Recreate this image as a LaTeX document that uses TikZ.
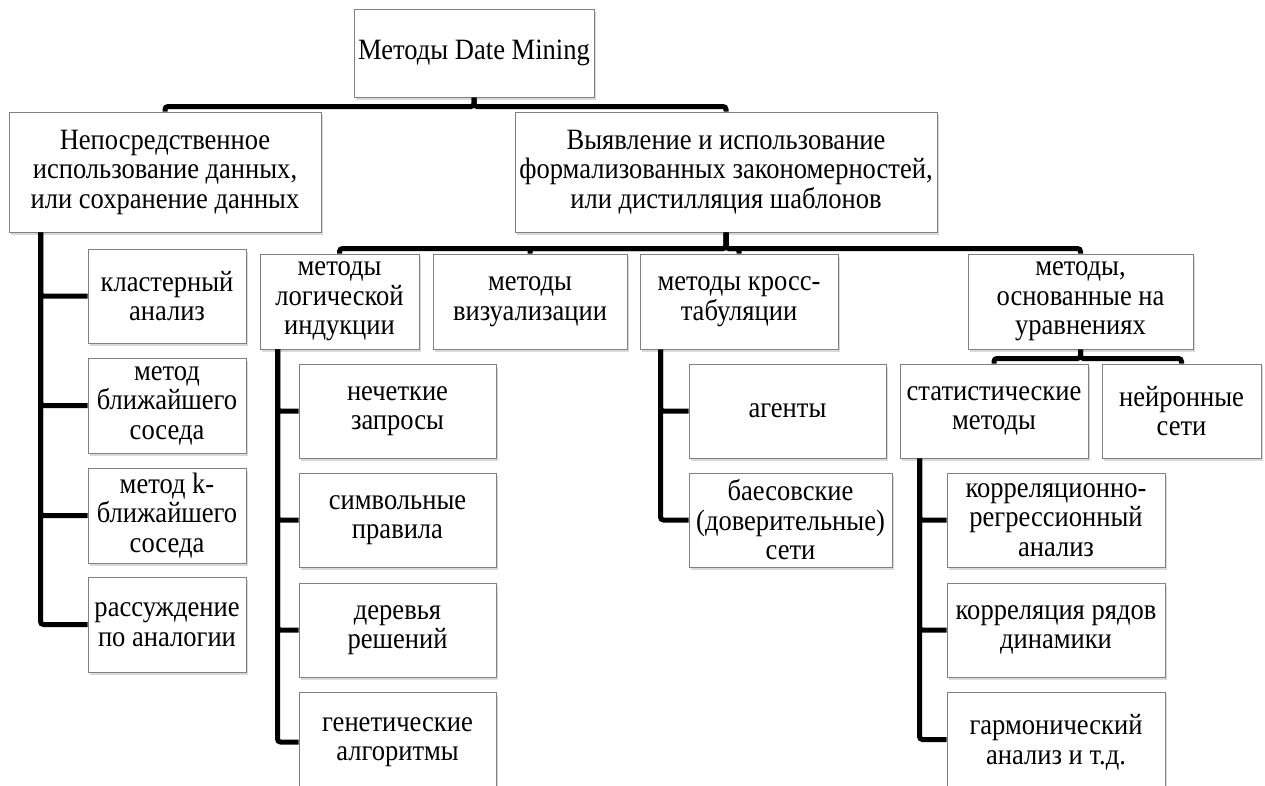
\documentclass[tikz,border=0pt]{standalone}
\usepackage{fontspec}
\setmainfont{Liberation Serif}[FakeStretch=0.9]
\usetikzlibrary{shadows}

\tikzset{
  box/.style={draw=black!50, line width=1pt, fill=white, align=center,
    inner sep=0pt, font=\fontsize{29.5}{29.5}\selectfont,
    drop shadow={shadow xshift=2pt, shadow yshift=-3pt, fill=black, opacity=0.15}},
  conn/.style={line width=5pt, draw=black, rounded corners=3pt}
}

% place a box by its corners (x1,y1)-(x2,y2), y measured downwards
\newcommand{\bx}[6]{%
  \node[box, minimum width={(#4)-(#2)}, minimum height={(#5)-(#3)}]
    (#1) at ({((#2)+(#4))/2},{((#3)+(#5))/2}) {#6};}

\begin{document}
\begin{tikzpicture}[x=1pt, y=-1pt]
\useasboundingbox (0,0) rectangle (1265,785);

% ---------- boxes ----------
\bx{root}{354}{9}{594}{97}{Методы Date Mining}
\bx{A}{9}{112}{321}{232}{Непосредственное\\использование данных,\\или сохранение данных}
\bx{B}{515}{112}{937}{232}{Выявление и использование\\формализованных закономерностей,\\или дистилляция шаблонов}

\bx{C1}{88}{249}{246}{343}{кластерный\\анализ}
\bx{C2}{88}{358}{246}{453}{метод\\ближайшего\\соседа}
\bx{C3}{88}{468}{246}{563}{метод k-\\ближайшего\\соседа}
\bx{C4}{88}{577}{246}{672}{рассуждение\\по аналогии}

\bx{D1}{260}{254}{419}{349}{методы\\логической\\индукции}
\bx{D2}{433}{254}{627}{349}{методы\\визуализации}
\bx{D3}{640}{254}{838}{349}{методы кросс-\\табуляции}
\bx{D4}{968}{254}{1193}{349}{методы,\\основанные на\\уравнениях}

\bx{E1}{299}{364}{496}{458}{нечеткие\\запросы}
\bx{E2}{299}{473}{496}{567}{символьные\\правила}
\bx{E3}{299}{583}{496}{677}{деревья\\решений}
\bx{E4}{299}{692}{496}{792}{генетические\\алгоритмы}

\bx{F1}{689}{364}{886}{458}{агенты}
\bx{F2}{689}{473}{892}{567}{баесовские\\(доверительные)\\сети}

\bx{G1}{900}{364}{1088}{458}{статистические\\методы}
\bx{G2}{1102}{364}{1261}{458}{нейронные\\сети}

\bx{H1}{947}{473}{1165}{567}{корреляционно-\\регрессионный\\анализ}
\bx{H2}{947}{583}{1165}{677}{корреляция рядов\\динамики}
\bx{H3}{947}{692}{1165}{792}{гармонический\\анализ и т.д.}

% ---------- connectors ----------
% root to the two main branches
\draw[conn] (root.south) -- ++(0,9) -| (A.north);
\draw[conn] (root.south) -- ++(0,9) -| (B.north);

% direct use of data
\coordinate (tA) at ([xshift=32pt]A.south west);
\foreach \n in {C1,C2,C3,C4} \draw[conn] (tA) |- (\n.west);

% pattern distillation
\foreach \n in {D1,D2,D3,D4} \draw[conn] (B.south) -- ++(0,16) -| (\n.north);

% logical induction
\coordinate (tD1) at ([xshift=18pt]D1.south west);
\foreach \n in {E1,E2,E3,E4} \draw[conn] (tD1) |- (\n.west);

% cross tabulation
\coordinate (tD3) at ([xshift=21pt]D3.south west);
\foreach \n in {F1,F2} \draw[conn] (tD3) |- (\n.west);

% equation-based methods
\foreach \n in {G1,G2} \draw[conn] (D4.south) -- ++(0,9) -| (\n.north);

% statistical methods
\coordinate (tG1) at ([xshift=20pt]G1.south west);
\draw[conn] (tG1) |- (H1.west);
\draw[conn] (tG1) |- (H2.west);
\draw[conn] (tG1) |- ([yshift=-48pt]H3.north west);
\end{tikzpicture}
\end{document}
